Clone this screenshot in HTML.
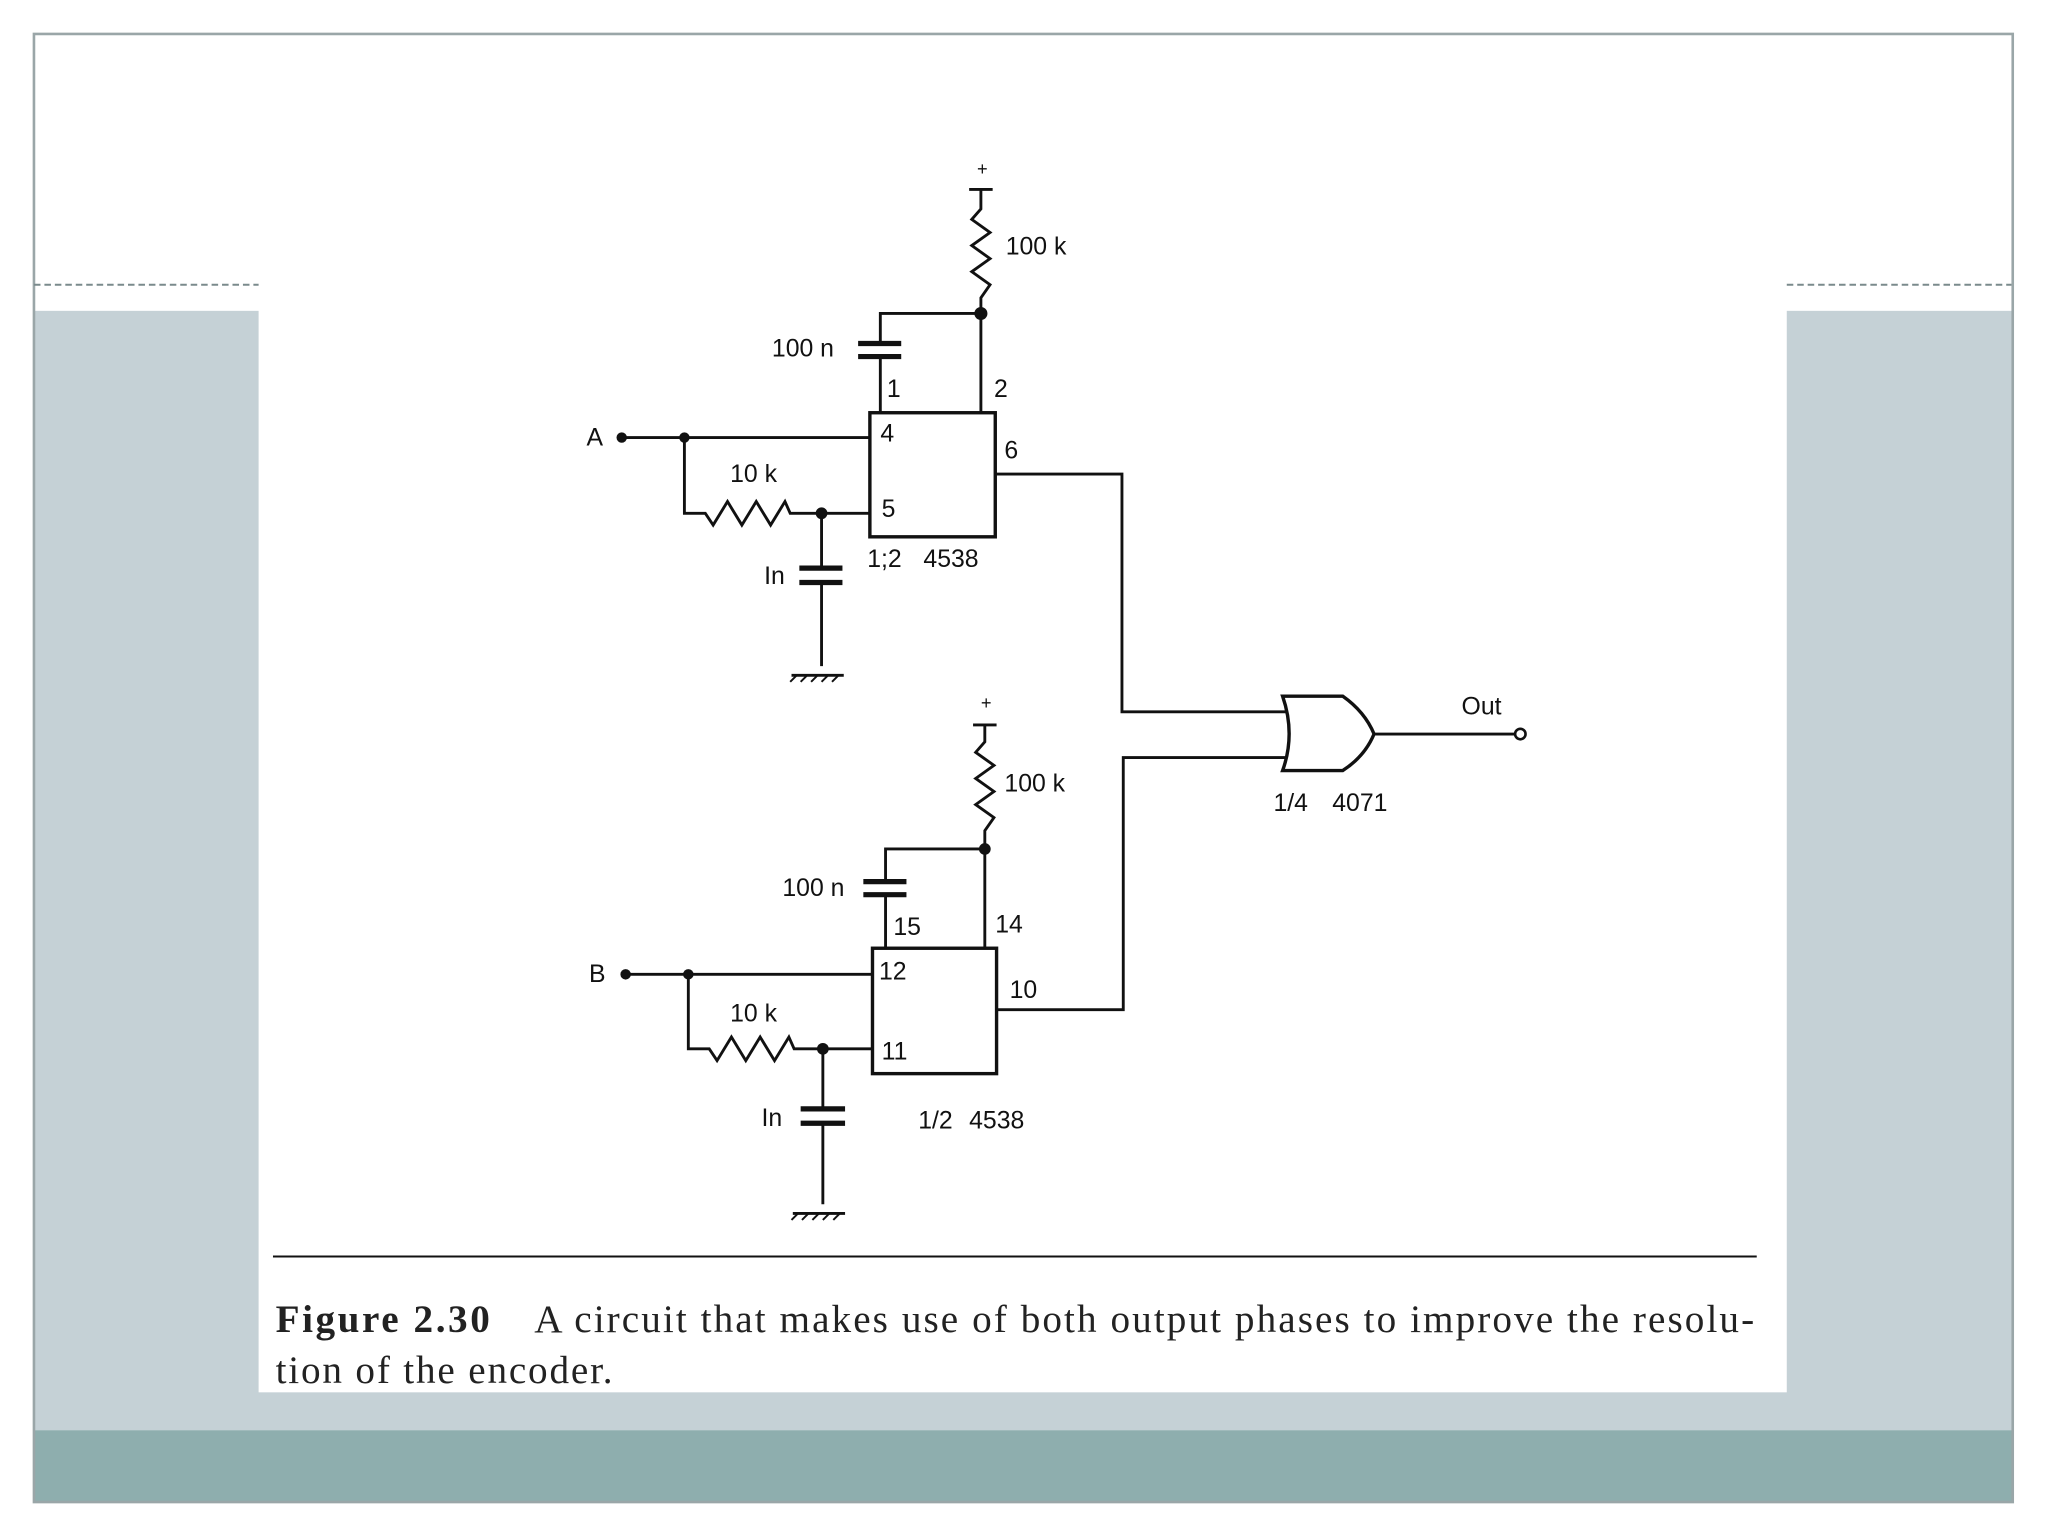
<!DOCTYPE html>
<html><head><meta charset="utf-8"><style>
html,body{margin:0;padding:0;background:#fff;}
svg{display:block;}
.t{font-family:"Liberation Sans",sans-serif;font-size:19px;fill:#111;}
.c{font-family:"Liberation Serif",serif;font-size:30px;fill:#222;}
</style></head><body>
<svg width="2048" height="1536" viewBox="0 0 1568 1176" preserveAspectRatio="none" xmlns="http://www.w3.org/2000/svg">
<rect x="0" y="0" width="1568" height="1176" fill="#fff"/>
<rect x="26" y="238" width="1515" height="857" fill="#c5d1d6"/>
<rect x="26" y="1095" width="1515" height="55" fill="#8eaeae"/>
<rect x="198" y="230" width="1170" height="836" fill="#fff"/>
<rect x="26" y="26" width="1515" height="1124" fill="none" stroke="#9aa6a8" stroke-width="2"/>
<line x1="26" y1="218" x2="198" y2="218" stroke="#7a8a8c" stroke-width="1.5" stroke-dasharray="5,3"/>
<line x1="1368" y1="218" x2="1540" y2="218" stroke="#7a8a8c" stroke-width="1.5" stroke-dasharray="5,3"/>
<line x1="209" y1="962" x2="1345" y2="962" stroke="#111" stroke-width="1.5"/>
<text class="c" x="211" y="1020" font-weight="bold" textLength="164" lengthAdjust="spacing">Figure 2.30</text>
<text class="c" x="409" y="1020" textLength="934" lengthAdjust="spacing">A circuit that makes use of both output phases to improve the resolu-</text>
<text class="c" x="211" y="1059" textLength="258" lengthAdjust="spacing">tion of the encoder.</text>

<g stroke="#111" stroke-width="2.2" fill="none">
<rect x="666" y="316" width="96" height="95" stroke-width="2.6"/>
<polyline points="476,335 666,335"/>
<polyline points="524,335 524,393 540,393 546,402 557,384 568,402 579,384 590,402 601,384 605,393 666,393"/>
<polyline points="629,393 629,435"/>
<polyline points="629,447 629,510"/>
<line x1="612" y1="435" x2="645" y2="435" stroke-width="4"/>
<line x1="612" y1="446" x2="645" y2="446" stroke-width="4"/>
<polyline points="742,145 760,145"/>
<polyline points="751,145 751,160 744,168 758,178 744,188 758,198 744,208 758,218 751,228 751,316"/>
<polyline points="751,240 674,240 674,263"/>
<polyline points="674,274 674,316"/>
<line x1="657" y1="263" x2="690" y2="263" stroke-width="4"/>
<line x1="657" y1="273" x2="690" y2="273" stroke-width="4"/>
<polyline points="762,363 859,363 859,545 985,545"/>
<rect x="668" y="726" width="95" height="96" stroke-width="2.6"/>
<polyline points="479,746 668,746"/>
<polyline points="527,746 527,803 543,803 549,812 560,794 571,812 582,794 593,812 604,794 608,803 668,803"/>
<polyline points="630,803 630,849"/>
<polyline points="630,861 630,922"/>
<line x1="613" y1="849" x2="647" y2="849" stroke-width="4"/>
<line x1="613" y1="860" x2="647" y2="860" stroke-width="4"/>
<polyline points="745,555 763,555"/>
<polyline points="754,555 754,568 747,576 761,586 747,596 761,606 747,616 761,626 754,636 754,726"/>
<polyline points="754,650 678,650 678,675"/>
<polyline points="678,686 678,726"/>
<line x1="661" y1="675" x2="694" y2="675" stroke-width="4"/>
<line x1="661" y1="685" x2="694" y2="685" stroke-width="4"/>
<polyline points="763,773 860,773 860,580 985,580"/>
<path d="M982,533 L1028,533 Q1045,545 1052,562 Q1045,579 1028,590 L982,590 Q992,562 982,533 Z" stroke-width="2.6"/>
<polyline points="1052,562 1160,562"/>
<line x1="606" y1="517" x2="646" y2="517"/>
<line x1="607" y1="929" x2="647" y2="929"/>
</g>
<g stroke="#111" stroke-width="1.5">
<line x1="610" y1="517" x2="605" y2="522"/><line x1="618" y1="517" x2="613" y2="522"/><line x1="626" y1="517" x2="621" y2="522"/><line x1="634" y1="517" x2="629" y2="522"/><line x1="642" y1="517" x2="637" y2="522"/>
<line x1="611" y1="929" x2="606" y2="934"/><line x1="619" y1="929" x2="614" y2="934"/><line x1="627" y1="929" x2="622" y2="934"/><line x1="635" y1="929" x2="630" y2="934"/><line x1="643" y1="929" x2="638" y2="934"/>
</g>
<circle cx="1164" cy="562" r="4" fill="#fff" stroke="#111" stroke-width="2"/>
<g fill="#111">
<circle cx="476" cy="335" r="4"/><circle cx="524" cy="335" r="4"/><circle cx="629" cy="393" r="4.5"/><circle cx="751" cy="240" r="5"/>
<circle cx="479" cy="746" r="4"/><circle cx="527" cy="746" r="4"/><circle cx="630" cy="803" r="4.5"/><circle cx="754" cy="650" r="4.5"/>
</g>
<g class="t">
<text x="748" y="134" font-size="14">+</text>
<text x="770" y="195">100 k</text>
<text x="591" y="273">100 n</text>
<text x="679" y="304">1</text>
<text x="761" y="304">2</text>
<text x="674" y="338">4</text>
<text x="769" y="351">6</text>
<text x="449" y="341">A</text>
<text x="559" y="369">10 k</text>
<text x="675" y="396">5</text>
<text x="664" y="434">1;2</text><text x="707" y="434">4538</text>
<text x="585" y="447">In</text>
<text x="751" y="543" font-size="14">+</text>
<text x="769" y="606">100 k</text>
<text x="599" y="686">100 n</text>
<text x="684" y="716">15</text>
<text x="762" y="714">14</text>
<text x="673" y="750">12</text>
<text x="773" y="764">10</text>
<text x="451" y="752">B</text>
<text x="559" y="782">10 k</text>
<text x="675" y="811">11</text>
<text x="703" y="864">1/2</text><text x="742" y="864">4538</text>
<text x="583" y="862">In</text>
<text x="1119" y="547">Out</text>
<text x="975" y="621">1/4</text><text x="1020" y="621">4071</text>
</g>
</svg>
</body></html>
